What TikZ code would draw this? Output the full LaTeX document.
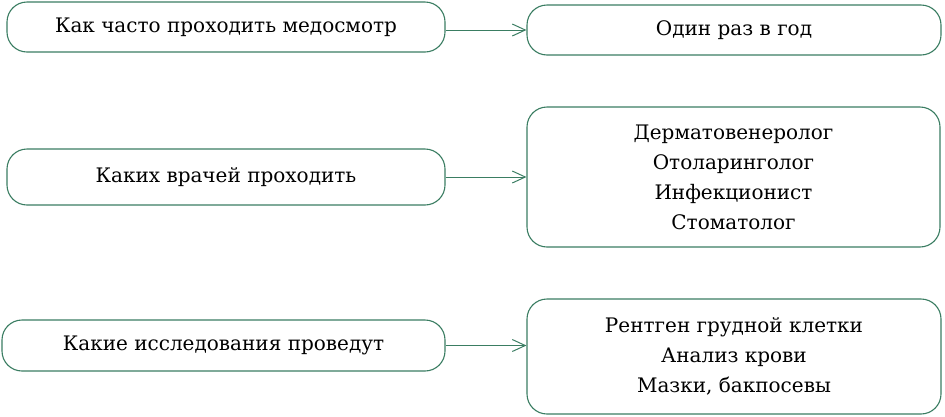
\documentclass[tikz,border=0pt]{standalone}
\usepackage{fontspec}
\setmainfont{DejaVu Serif}
\usetikzlibrary{arrows.meta}
\definecolor{edge}{HTML}{3A7D62}
\tikzset{
  box/.style={draw=edge, line width=1.1pt, rounded corners=20pt, inner sep=0pt,
    align=center, font=\fontsize{20}{30}\selectfont, text=black},
  link/.style={draw=edge, line width=1pt, -{Straight Barb[length=13pt,width=12pt,line width=1pt]}}
}
\begin{document}
\begin{tikzpicture}[x=1pt,y=-1pt]
\useasboundingbox (0,0) rectangle (945,416);
\node[box, minimum width=438pt, minimum height=50pt] (a1) at (226,27) {Как часто проходить медосмотр};
\node[box, minimum width=414pt, minimum height=50pt] (b1) at (734,30) {Один раз в год};
\node[box, minimum width=438pt, minimum height=56pt] (a2) at (226,177) {Каких врачей проходить};
\node[box, minimum width=413pt, minimum height=140pt] (b2) at (733.5,177) {Дерматовенеролог\\Отоларинголог\\Инфекционист\\Стоматолог};
\node[box, minimum width=443pt, minimum height=51pt] (a3) at (223.5,345.5) {Какие исследования проведут};
\node[box, minimum width=414pt, minimum height=115pt] (b3) at (734,356.5) {Рентген грудной клетки\\Анализ крови\\Мазки, бакпосевы};
\draw[link] (a1.east |- b1.west) -- (b1.west);
\draw[link] (a2.east) -- (b2.west);
\draw[link] (a3.east) -- (a3.east -| b3.west);
\end{tikzpicture}
\end{document}
